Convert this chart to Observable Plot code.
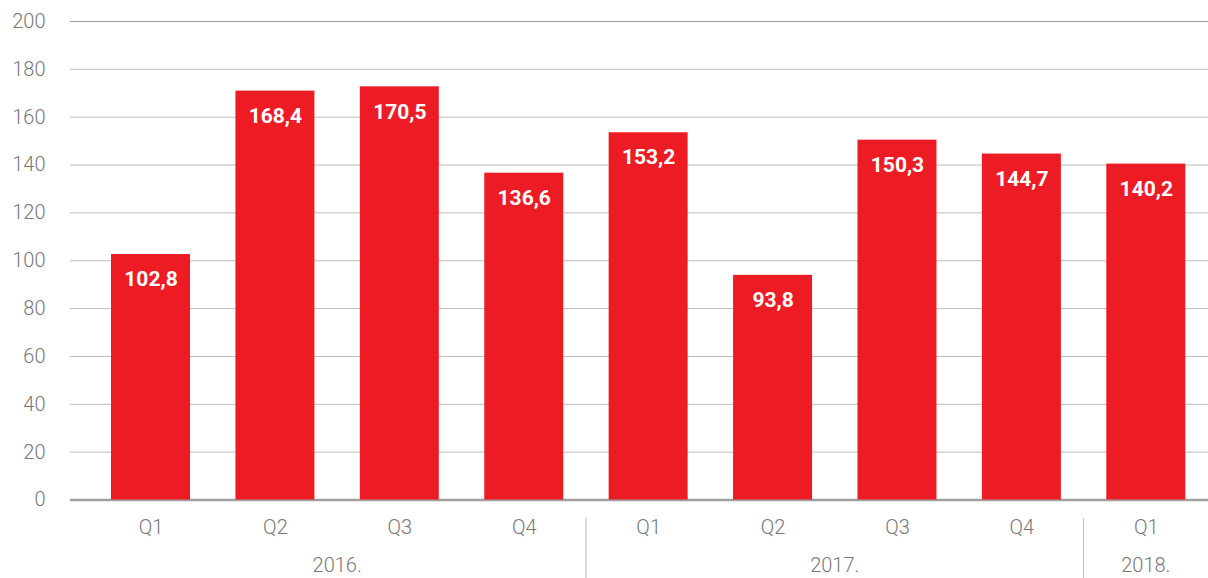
<!DOCTYPE html>
<html>
<head>
<meta charset="utf-8">
<script src="https://cdn.jsdelivr.net/npm/d3@7"></script>
<script src="https://cdn.jsdelivr.net/npm/@observablehq/plot@0.6"></script>
<style>
  html, body { margin: 0; padding: 0; background: #fff; }
  #chart { width: 1208px; height: 578px; }
</style>
</head>
<body>
<div id="chart"></div>
<script>
// ---- data ----
const quarters = ["Q1", "Q2", "Q3", "Q4", "Q1", "Q2", "Q3", "Q4", "Q1"];
const years = ["2016.", "2016.", "2016.", "2016.", "2017.", "2017.", "2017.", "2017.", "2018."];
const values = [102.6, 170.9, 172.7, 136.6, 153.5, 93.9, 150.4, 144.6, 140.4];
const labels = ["102,8", "168,4", "170,5", "136,6", "153,2", "93,8", "150,3", "144,7", "140,2"];
const yTicks = [0, 20, 40, 60, 80, 100, 120, 140, 160, 180, 200];

const data = quarters.map((q, i) => ({
  key: years[i] + " " + q, q, year: years[i], value: values[i], label: labels[i]
}));
const keys = data.map(d => d.key);
const qOf = Object.fromEntries(data.map(d => [d.key, d.q]));

const plot = Plot.plot({
  width: 1208,
  height: 578,
  marginLeft: 70,
  marginRight: 0,
  marginTop: 21,
  marginBottom: 78.5,
  style: { fontFamily: "Roboto, 'DejaVu Sans', sans-serif", fontSize: "20px", color: "#777", fontWeight: 300, background: "#fff" },
  x: { domain: keys, range: [88.3, 1208], round: false, paddingInner: 0.365, paddingOuter: 0.1825, tickSize: 0, tickPadding: 20, tickFormat: k => qOf[k], label: null },
  y: { domain: [0, 200], ticks: yTicks, tickSize: 0, tickPadding: 25, label: null },
  marks: [
    Plot.ruleY(yTicks.filter(t => t > 0 && t < 200), { stroke: "#bcbcbc", strokeWidth: 1 }),
    Plot.ruleY([200], { stroke: "#9a9a9a", strokeWidth: 1 }),
    Plot.ruleY([0], { stroke: "#a0a0a0", strokeWidth: 2.6 }),
    Plot.barY(data, { x: "key", y: "value", fill: "#ED1C24" }),
    Plot.text(data, { x: "key", y: "value", text: "label", dy: 25, fill: "#fff", fontWeight: 700, fontSize: 21 })
  ]
});
document.getElementById("chart").appendChild(plot);

// year labels and separators from the x scale
const xs = plot.scale("x");
const bw = xs.bandwidth;
const center = k => xs.apply(k) + bw / 2;
const svg = d3.select(plot);
const uniqYears = [...new Set(years)];
const g = svg.append("g");
uniqYears.forEach((yr, yi) => {
  const ks = data.filter(d => d.year === yr).map(d => d.key);
  const cx = (center(ks[0]) + center(ks[ks.length - 1])) / 2;
  g.append("text")
    .attr("x", cx).attr("y", 566).attr("dy", "0.32em")
    .attr("text-anchor", "middle")
    .attr("fill", "#777")
    .attr("font-size", 20)
    .text(yr);
  if (yi > 0) {
    const prev = data.filter(d => d.year === uniqYears[yi - 1]).map(d => d.key);
    const sx = (center(prev[prev.length - 1]) + center(ks[0])) / 2;
    g.append("line")
      .attr("x1", sx).attr("x2", sx).attr("y1", 518).attr("y2", 578)
      .attr("stroke", "#bcbcbc").attr("stroke-width", 1);
  }
});
</script>
</body>
</html>
